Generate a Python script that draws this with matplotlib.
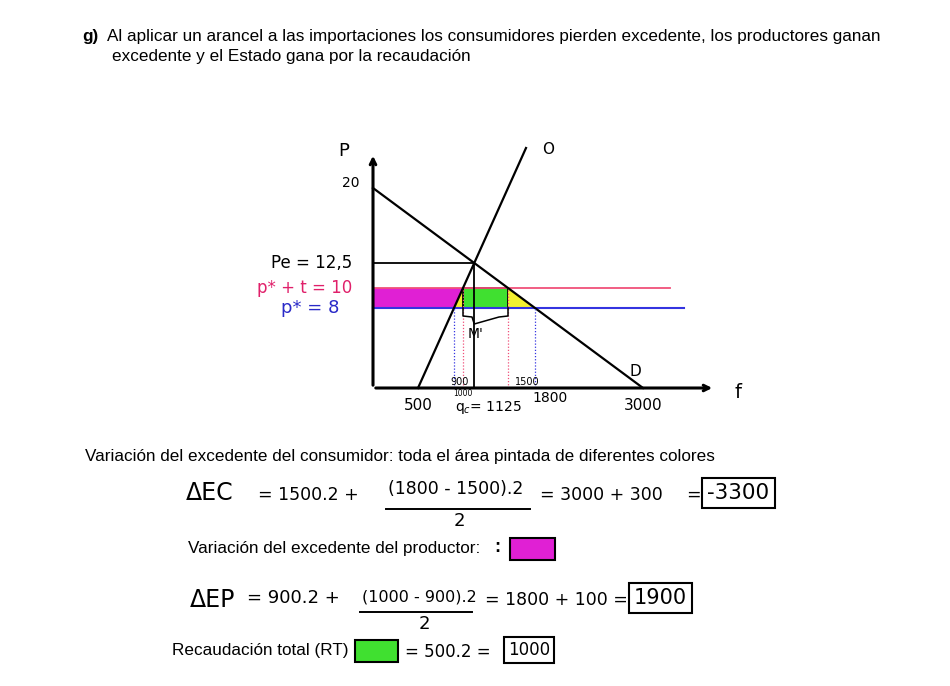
import matplotlib
matplotlib.use("Agg")
import matplotlib.pyplot as plt
from matplotlib.patches import Polygon, Rectangle

# --- data ---
demand_q = [0, 3000]
demand_p = [20, 0]
supply_q = [500, 1700]
supply_p = [0, 24]

p_eq, q_eq = 12.5, 1125
p_tariff, p_world = 10, 8
q_s_world, q_s_tariff = 900, 1000
q_d_tariff, q_d_world = 1500, 1800
tariff_line_end, world_line_end = 3300, 3450
axis_q_end, axis_p_end = 3800, 23.5

W, H = 950, 686
BODY = "Liberation Sans"
HAND = "DejaVu Sans"


def px(x, y):
    return x / W, 1 - y / H


fig = plt.figure(figsize=(W / 100, H / 100), dpi=100)

# chart axes: q=0 at pixel 373, p=0 at pixel 388
l, t, r, b = 346, 138, 733, 418
ax = fig.add_axes([l / W, 1 - b / H, (r - l) / W, (b - t) / H])
ax.set_xlim(-300, 4000)
ax.set_ylim(-3, 25)
ax.axis("off")

magenta, green, yellow = "#e020d4", "#40e030", "#f2f030"
pink, blue = "#f0507a", "#3434e0"

# shaded areas
ax.add_patch(Polygon([(0, p_world), (q_s_world, p_world), (q_s_tariff, p_tariff), (0, p_tariff)],
                     closed=True, fc=magenta, ec="none"))
ax.add_patch(Polygon([(q_s_world, p_world), (q_s_tariff, p_world), (q_s_tariff, p_tariff)],
                     closed=True, fc=yellow, ec="none"))
ax.add_patch(Rectangle((q_s_tariff, p_world), q_d_tariff - q_s_tariff, p_tariff - p_world,
                       fc=green, ec="black", lw=1.3))
ax.add_patch(Polygon([(q_d_tariff, p_world), (q_d_world, p_world), (q_d_tariff, p_tariff)],
                     closed=True, fc=yellow, ec="none"))

# price lines
ax.plot([0, tariff_line_end], [p_tariff, p_tariff], color=pink, lw=1.3)
ax.plot([0, world_line_end], [p_world, p_world], color=blue, lw=1.5)

# curves
ax.plot(demand_q, demand_p, color="black", lw=1.6)
ax.plot(supply_q, supply_p, color="black", lw=1.6)

# equilibrium guides
ax.plot([0, q_eq], [p_eq, p_eq], color="black", lw=1.3)
ax.plot([q_eq, q_eq], [0, p_eq], color="black", lw=1.3)

# dotted drop lines
for q, p, c in [(q_s_world, p_world, blue), (q_s_tariff, p_tariff, pink),
                (q_d_tariff, p_tariff, pink), (q_d_world, p_world, blue)]:
    ax.plot([q, q], [0, p], color=c, lw=0.9, ls=(0, (1, 1.5)))

# axes with arrows
ax.annotate("", xy=(0, axis_p_end), xytext=(0, 0),
            arrowprops=dict(arrowstyle="->", lw=2.2, color="black"))
ax.annotate("", xy=(axis_q_end, 0), xytext=(0, 0),
            arrowprops=dict(arrowstyle="->", lw=2.2, color="black"))

# brace under the green rectangle
mid = (q_s_tariff + q_d_tariff) / 2
ax.plot([q_s_tariff, q_s_tariff, mid - 150, q_eq, mid + 150, q_d_tariff, q_d_tariff],
        [p_world, p_world - 0.8, p_world - 0.9, p_world - 1.6, p_world - 0.9, p_world - 0.8, p_world],
        color="black", lw=1.1)
ax.text(q_eq + 20, p_world - 2.6, "M'", fontsize=10, family=HAND, ha="center", va="center")

# handwritten labels
hs = dict(family=HAND, va="center")
ax.text(-330, axis_p_end + 0.2, "P", fontsize=13, ha="center", **hs)
ax.text(-250, 20.5, "20", fontsize=10, ha="center", **hs)
ax.text(1950, 23.8, "O", fontsize=11, ha="center", **hs)
ax.text(2920, 1.6, "D", fontsize=11, ha="center", **hs)
ax.text(axis_q_end + 250, -0.4, "f", fontsize=14, ha="center", **hs)
ax.text(-230, p_eq, "Pe = 12,5", fontsize=12, ha="right", **hs)
ax.text(-230, p_tariff, "p* + t = 10", fontsize=12, ha="right", color="#e0206a", **hs)
ax.text(-370, p_world, "p* = 8", fontsize=13, ha="right", color="#2a2ac8", **hs)

ax.text(3000, -1.7, "3000", fontsize=11, ha="center", **hs)
ax.text(q_d_world + 170, -1.0, "1800", fontsize=10, ha="center", **hs)
ax.text(500, -1.8, "500", fontsize=11, ha="center", **hs)
ax.text(q_s_world + 60, 0.6, "900", fontsize=7, ha="center", **hs)
ax.text(q_d_tariff + 210, 0.6, "1500", fontsize=7, ha="center", **hs)
ax.text(q_s_tariff + 0, -0.55, "1000", fontsize=5.5, ha="center", **hs)
ax.text(q_s_tariff - 90, -2.0, r"q$_c$= 1125", fontsize=10, ha="left", **hs)

# --- text outside the chart ---
fs_body = 12.3
fig.text(*px(82, 37), "g)", fontsize=fs_body, family=BODY, weight="bold", va="center")
fig.text(*px(107, 37), "Al aplicar un arancel a las importaciones los consumidores pierden excedente, "
         "los productores ganan", fontsize=fs_body, family=BODY, va="center")
fig.text(*px(112, 57), "excedente y el Estado gana por la recaudación", fontsize=fs_body,
         family=BODY, va="center")

fig.text(*px(85, 456), "Variación del excedente del consumidor: toda el área pintada de "
         "diferentes colores", fontsize=fs_body, family=BODY, va="center")

box = dict(boxstyle="square,pad=0.25", fc="none", ec="black", lw=1.5)

# Delta EC
fig.text(*px(186, 493), "ΔEC", fontsize=17, family=HAND, va="center")
fig.text(*px(258, 495), "= 1500.2 +", fontsize=12.5, family=HAND, va="center")
fig.text(*px(388, 489), "(1800 - 1500).2", fontsize=12.5, family=HAND, va="center")
fig.add_artist(plt.Line2D([386 / W, 530 / W], [1 - 509 / H, 1 - 509 / H], color="black", lw=1.4))
fig.text(*px(459, 521), "2", fontsize=13, family=HAND, va="center", ha="center")
fig.text(*px(540, 495), "= 3000 + 300", fontsize=12.5, family=HAND, va="center")
fig.text(*px(686, 495), "=", fontsize=12.5, family=HAND, va="center")
fig.text(*px(707, 493), "-3300", fontsize=15.5, family=HAND, va="center", bbox=box)

# Delta EP
fig.text(*px(188, 548), "Variación del excedente del productor:", fontsize=fs_body, family=BODY,
         va="center")
fig.text(*px(494, 548), ":", fontsize=13, family=BODY, weight="bold", va="center")
fig.add_artist(Rectangle(px(510, 560), 45 / W, 22 / H, transform=fig.transFigure,
                         fc=magenta, ec="black", lw=1.5))

fig.text(*px(190, 600), "ΔEP", fontsize=17, family=HAND, va="center")
fig.text(*px(247, 598), "= 900.2 +", fontsize=13, family=HAND, va="center")
fig.text(*px(362, 597), "(1000 - 900).2", fontsize=11.5, family=HAND, va="center")
fig.add_artist(plt.Line2D([360 / W, 472 / W], [1 - 612 / H, 1 - 612 / H], color="black", lw=1.4))
fig.text(*px(424, 624), "2", fontsize=13, family=HAND, va="center", ha="center")
fig.text(*px(485, 600), "= 1800 + 100 =", fontsize=12.5, family=HAND, va="center")
fig.text(*px(634, 598), "1900", fontsize=15, family=HAND, va="center", bbox=box)

# RT
fig.text(*px(172, 650), "Recaudación total (RT)", fontsize=fs_body, family=BODY, va="center")
fig.add_artist(Rectangle(px(355, 662), 43 / W, 22 / H, transform=fig.transFigure,
                         fc=green, ec="black", lw=1.5))
fig.text(*px(405, 652), "= 500.2 =", fontsize=12, family=HAND, va="center")
fig.text(*px(508, 650), "1000", fontsize=12, family=HAND, va="center", bbox=box)

fig.savefig("out.png", dpi=100)
